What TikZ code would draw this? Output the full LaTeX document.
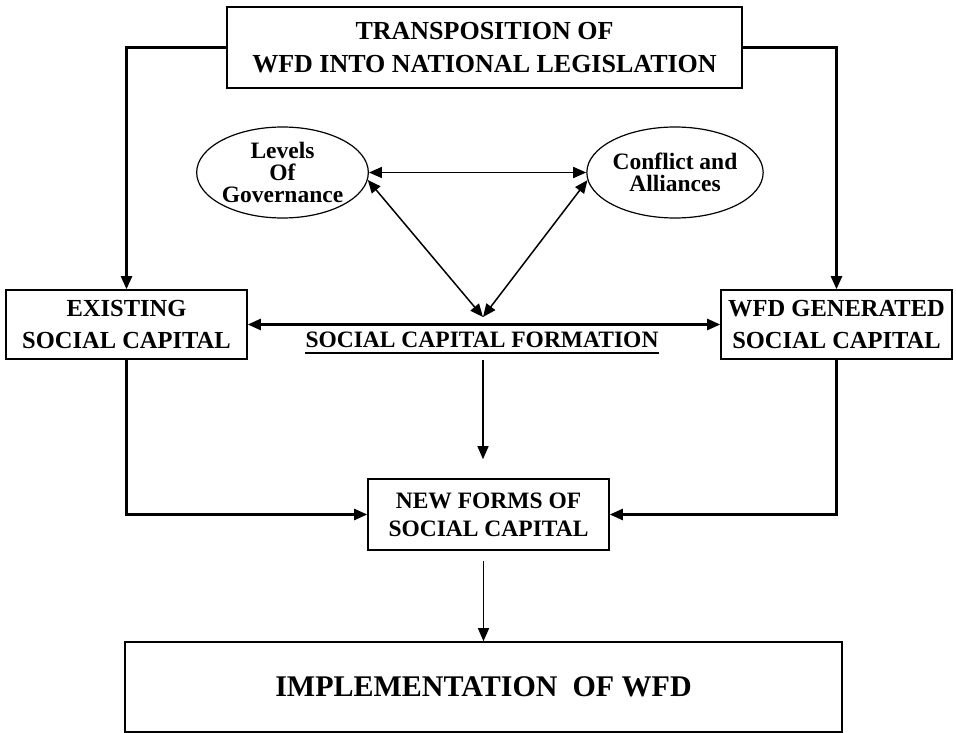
\documentclass[tikz,border=0pt]{standalone}
\usepackage{fontspec}
\setmainfont{Liberation Serif}
\usetikzlibrary{arrows.meta,shapes.geometric}

\begin{document}
\begin{tikzpicture}[x=1pt,y=-1pt,
    box/.style={draw,line width=1.6pt,align=center,inner sep=0pt},
    oval/.style={draw,ellipse,line width=1.2pt,align=center,inner sep=0pt,
      minimum width=152pt,minimum height=91pt,
      font=\bfseries\fontsize{23.5}{22}\selectfont},
    link/.style={line width=2.4pt,-{Triangle[length=13pt,width=11pt]}},
    thinlink/.style={line width=1.3pt,-{Triangle[length=13pt,width=11pt]}},
    both/.style={line width=1.5pt,{Triangle[length=13pt,width=11pt]}-{Triangle[length=13pt,width=11pt]}}]
  \useasboundingbox (0,0) rectangle (956,733);

  % boxes
  \node[box,minimum width=515pt,minimum height=81pt,font=\bfseries\fontsize{26}{33}\selectfont]
    (top) at (484.5,47.5) {TRANSPOSITION OF\\WFD INTO NATIONAL LEGISLATION};
  \node[box,minimum width=241pt,minimum height=69pt,font=\bfseries\fontsize{24.5}{32}\selectfont]
    (exist) at (126.5,324.5) {EXISTING\\SOCIAL CAPITAL};
  \node[box,minimum width=231pt,minimum height=69pt,font=\bfseries\fontsize{24.5}{32}\selectfont]
    (wfdgen) at (836.5,324.5) {WFD GENERATED\\SOCIAL CAPITAL};
  \node[box,minimum width=241pt,minimum height=71pt,font=\bfseries\fontsize{23.5}{28}\selectfont]
    (newforms) at (488.5,514.5) {NEW FORMS OF\\SOCIAL CAPITAL};
  \node[box,minimum width=717pt,minimum height=90pt,font=\bfseries\fontsize{30}{36}\selectfont]
    (impl) at (483.5,687) {IMPLEMENTATION\ \ OF WFD};

  % ovals
  \node[oval] (levels) at (282.5,172.5) {Levels\\Of\\Governance};
  \node[oval] (conflict) at (675,172.5) {Conflict and\\Alliances};

  % centre label
  \node[inner sep=0pt,font=\bfseries\fontsize{23.5}{28}\selectfont]
    (scf) at (482,340) {SOCIAL CAPITAL FORMATION};
  \draw[line width=2pt] ([yshift=-5pt]scf.base west) -- ([yshift=-5pt]scf.base east);
  \coordinate (apex) at (483,317);

  % connectors
  \draw[link] (top.west) -| (exist.north);
  \draw[link] (top.east) -| (wfdgen.north);
  \draw[both,line width=2.4pt] (exist.east) -- (wfdgen.west);
  \draw[both] (levels.east) -- (conflict.west);
  \draw[both] (levels.-5) -- (apex);
  \draw[both] (conflict.185) -- (apex);
  \draw[link] (exist.south) |- (newforms.west);
  \draw[link] (wfdgen.south) |- (newforms.east);
  \draw[thinlink] ([yshift=-12pt]apex |- scf.south) -- ([yshift=19pt]apex |- newforms.north);
  \draw[thinlink] ([yshift=-10pt]impl.north |- newforms.south) -- (impl.north);
\end{tikzpicture}
\end{document}
